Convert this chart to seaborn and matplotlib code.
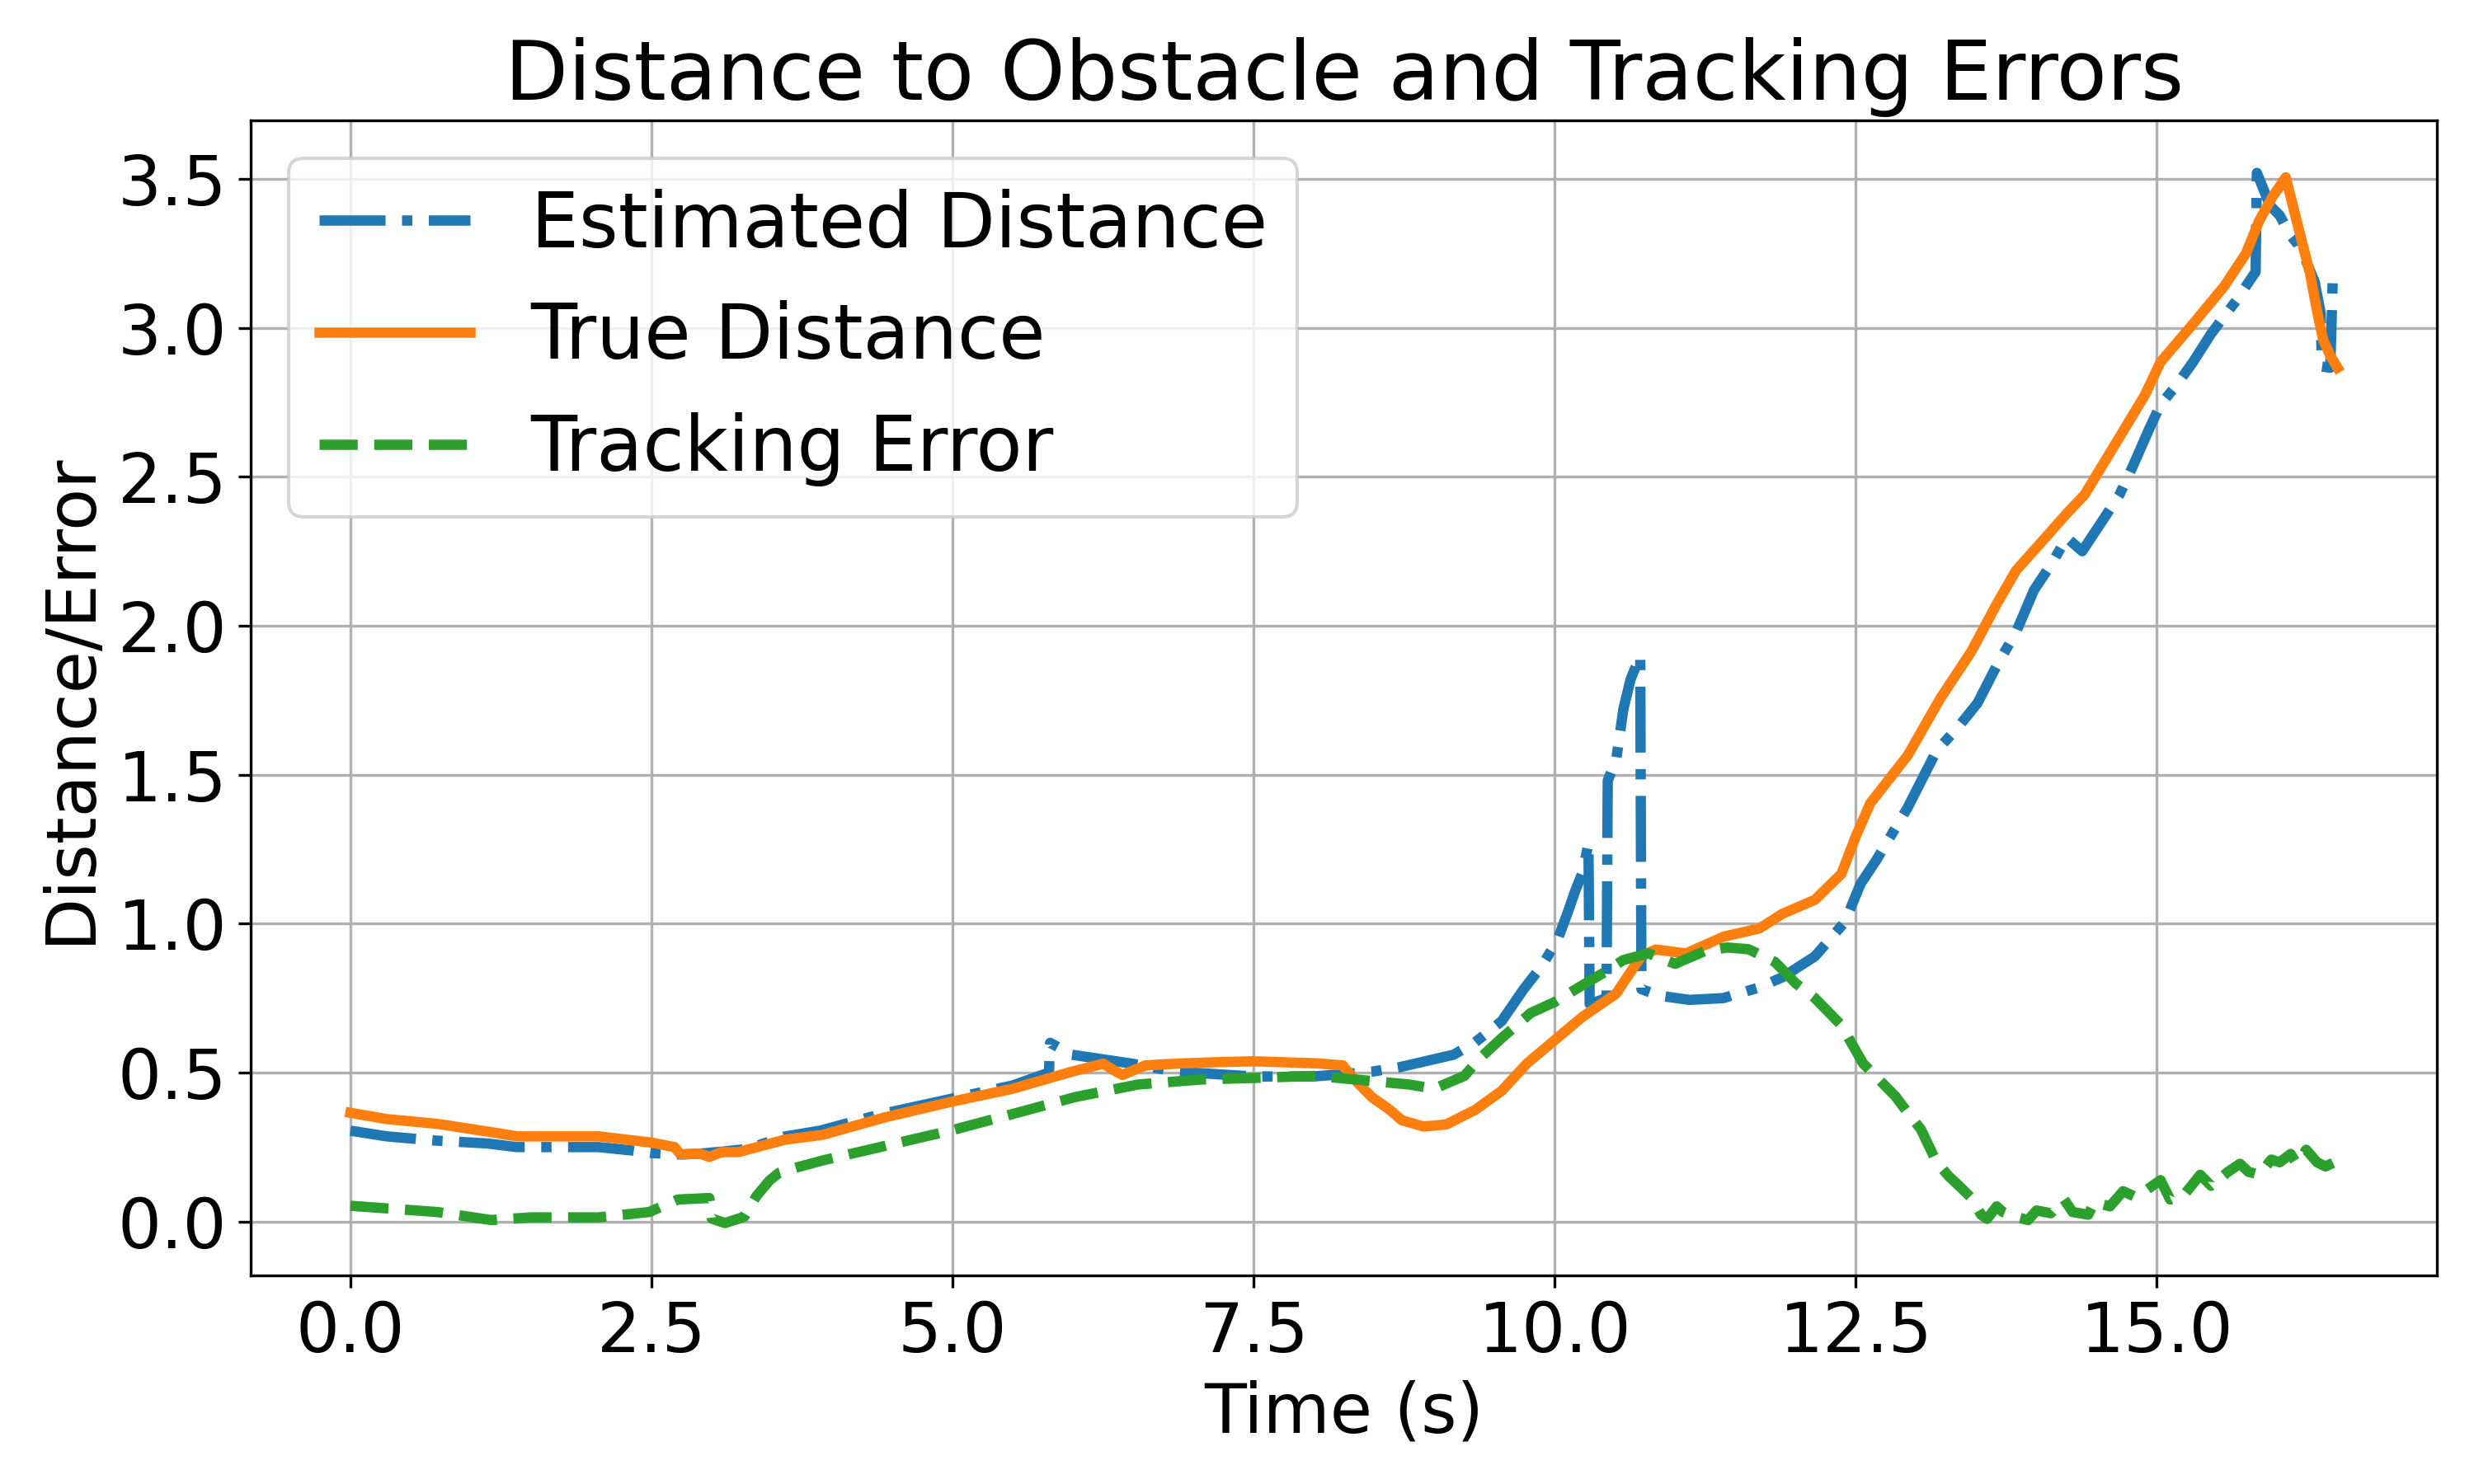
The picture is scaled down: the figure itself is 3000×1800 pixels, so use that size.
import matplotlib
matplotlib.use("Agg")
import matplotlib.pyplot as plt
import seaborn as sns

# --- data (time in s) ---
t_est = [0.0, 0.3, 0.7, 1.14, 1.38, 2.06, 2.35, 2.5, 2.75, 2.9, 3.1, 3.3, 3.6, 3.9,
         4.4, 5.0, 5.5, 5.8, 5.81, 5.99, 6.49, 6.86, 7.5, 8.0, 8.48, 8.7, 9.16, 9.34,
         9.56, 9.74, 9.89, 10.02, 10.11, 10.17, 10.23, 10.28, 10.29, 10.43, 10.44,
         10.51, 10.57, 10.63, 10.71, 10.72, 10.87, 11.12, 11.4, 11.7, 11.89, 12.16,
         12.41, 12.54, 12.67, 12.93, 13.17, 13.35, 13.51, 13.67, 13.83, 13.98, 14.14,
         14.25, 14.38, 14.56, 14.69, 14.8, 14.93, 15.03, 15.16, 15.3, 15.45, 15.66,
         15.82, 15.83, 15.88, 15.94, 16.02, 16.11, 16.17, 16.23, 16.31, 16.36, 16.37,
         16.44, 16.46, 16.5]
est_dist = [0.305, 0.286, 0.272, 0.262, 0.25, 0.25, 0.238, 0.23, 0.225, 0.228, 0.235,
            0.244, 0.285, 0.305, 0.36, 0.413, 0.457, 0.5, 0.6, 0.56, 0.53, 0.503, 0.487,
            0.487, 0.503, 0.517, 0.56, 0.602, 0.673, 0.779, 0.857, 0.942, 1.04, 1.11,
            1.17, 1.27, 0.73, 0.75, 1.48, 1.55, 1.72, 1.82, 1.9, 0.78, 0.758, 0.744,
            0.75, 0.786, 0.82, 0.89, 1.006, 1.134, 1.213, 1.389, 1.58, 1.66, 1.74,
            1.866, 1.978, 2.12, 2.217, 2.296, 2.25, 2.36, 2.44, 2.535, 2.655, 2.742,
            2.806, 2.885, 2.98, 3.092, 3.188, 3.52, 3.47, 3.41, 3.377, 3.31, 3.28,
            3.233, 3.154, 3.05, 2.87, 2.866, 3.16, 3.15]

t_true = [0.0, 0.3, 0.72, 0.85, 1.17, 1.38, 2.06, 2.5, 2.69, 2.74, 2.9, 2.98, 3.08,
          3.22, 3.61, 3.92, 4.44, 5.0, 5.49, 5.99, 6.25, 6.33, 6.41, 6.6, 6.86, 7.2,
          7.5, 8.03, 8.24, 8.33, 8.48, 8.63, 8.73, 8.91, 9.1, 9.34, 9.56, 9.77, 10.0,
          10.23, 10.51, 10.6, 10.72, 10.84, 11.09, 11.4, 11.7, 11.89, 12.16, 12.38,
          12.5, 12.62, 12.93, 13.2, 13.46, 13.67, 13.83, 14.11, 14.25, 14.4, 14.64,
          14.9, 15.03, 15.3, 15.56, 15.74, 15.85, 15.96, 16.07, 16.16, 16.21, 16.27,
          16.33, 16.38, 16.44, 16.5]
true_dist = [0.365, 0.344, 0.328, 0.32, 0.30, 0.286, 0.286, 0.265, 0.25, 0.226, 0.228,
             0.217, 0.233, 0.233, 0.275, 0.291, 0.35, 0.403, 0.445, 0.503, 0.53, 0.51,
             0.492, 0.524, 0.53, 0.535, 0.538, 0.531, 0.524, 0.48, 0.418, 0.375, 0.34,
             0.319, 0.326, 0.375, 0.439, 0.531, 0.609, 0.687, 0.765, 0.82, 0.892, 0.913,
             0.9, 0.956, 0.984, 1.033, 1.08, 1.167, 1.293, 1.404, 1.564, 1.755, 1.914,
             2.073, 2.185, 2.312, 2.376, 2.44, 2.6, 2.774, 2.885, 3.013, 3.14, 3.25,
             3.36, 3.44, 3.505, 3.36, 3.28, 3.185, 3.057, 2.96, 2.906, 2.866]

t_err = [0.0, 0.72, 1.17, 1.5, 2.06, 2.48, 2.72, 2.98, 3.0, 3.11, 3.27, 3.37, 3.48,
         3.56, 3.69, 3.92, 4.44, 5.0, 5.49, 6.02, 6.54, 7.07, 7.5, 8.02, 8.79, 9.0,
         9.25, 9.37, 9.56, 9.8, 10.0, 10.2, 10.41, 10.57, 10.78, 11.0, 11.24, 11.43,
         11.61, 11.83, 12.0, 12.16, 12.38, 12.56, 12.83, 12.93, 13.04, 13.17, 13.27,
         13.38, 13.46, 13.54, 13.59, 13.67, 13.72, 13.8, 13.93, 14.0, 14.12, 14.23,
         14.3, 14.43, 14.48, 14.61, 14.72, 14.82, 14.9, 15.03, 15.11, 15.24, 15.36,
         15.45, 15.59, 15.69, 15.76, 15.85, 15.95, 16.02, 16.11, 16.16, 16.24, 16.33,
         16.4, 16.5]
track_err = [0.053, 0.032, 0.005, 0.014, 0.014, 0.032, 0.074, 0.079, 0.01, -0.005,
             0.016, 0.085, 0.138, 0.164, 0.18, 0.205, 0.254, 0.307, 0.36, 0.418, 0.46,
             0.477, 0.482, 0.489, 0.46, 0.446, 0.489, 0.545, 0.616, 0.7, 0.737, 0.786,
             0.836, 0.878, 0.9, 0.865, 0.907, 0.92, 0.914, 0.871, 0.8, 0.75, 0.659,
             0.531, 0.42, 0.366, 0.31, 0.2, 0.153, 0.111, 0.079, 0.023, 0.009, 0.051,
             0.032, 0.019, 0.005, 0.037, 0.028, 0.074, 0.032, 0.023, 0.065, 0.051,
             0.102, 0.083, 0.102, 0.139, 0.074, 0.097, 0.157, 0.12, 0.167, 0.194,
             0.167, 0.157, 0.208, 0.199, 0.227, 0.194, 0.241, 0.199, 0.185, 0.204]

fig, ax = plt.subplots(figsize=(10, 6), dpi=300)

sns.lineplot(x=t_est, y=est_dist, ax=ax, estimator=None, sort=False,
             color='#1f77b4', linestyle='-.', linewidth=3, label='Estimated Distance')
sns.lineplot(x=t_true, y=true_dist, ax=ax, estimator=None, sort=False,
             color='#ff7f0e', linestyle='-', linewidth=3, label='True Distance')
sns.lineplot(x=t_err, y=track_err, ax=ax, estimator=None, sort=False,
             color='#2ca02c', linestyle='--', linewidth=3, label='Tracking Error')

ax.set_title('Distance to Obstacle and Tracking Errors', fontsize=24)
ax.set_xlabel('Time (s)', fontsize=20)
ax.set_ylabel('Distance/Error', fontsize=20)
ax.tick_params(axis='both', labelsize=20)
ax.grid(True)
ax.legend(loc='upper left', fontsize=22)

plt.tight_layout()
plt.savefig('out.png')
